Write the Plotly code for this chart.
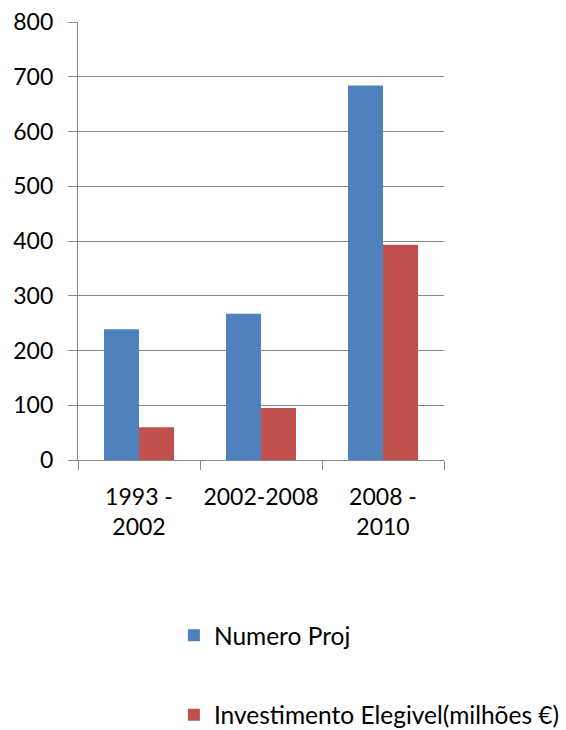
import plotly.graph_objects as go

# Periods and series values
periodos = ["1993 -<br>2002", "2002-2008", "2008 -<br>2010"]
numero_proj = [239, 267, 684]
investimento = [60, 95, 393]

serie_nomes = ["Numero Proj", "Investimento Elegivel(milhões €)"]
cores = ["#4F81BD", "#C0504D"]
eixo_y_ticks = [0, 100, 200, 300, 400, 500, 600, 700, 800]

FONT = "Lato, Open Sans, sans-serif"
GRID = "#868686"

fig = go.Figure()
fig.add_trace(go.Bar(
    x=periodos, y=numero_proj, name=serie_nomes[0],
    marker=dict(color=cores[0], line=dict(width=0)),
    legend="legend",
))
fig.add_trace(go.Bar(
    x=periodos, y=investimento, name=serie_nomes[1],
    marker=dict(color=cores[1], line=dict(width=0)),
    legend="legend2",
))

legend_style = dict(
    font=dict(family=FONT, size=24.5, color="#000000"),
    bgcolor="rgba(0,0,0,0)", borderwidth=0,
    xanchor="left", yanchor="middle", itemwidth=30,
)

fig.update_layout(
    width=566, height=730,
    margin=dict(l=78, r=122, t=22, b=270, autoexpand=False),
    paper_bgcolor="white", plot_bgcolor="white",
    barmode="group", bargap=0.426, bargroupgap=0,
    font=dict(family=FONT, size=23, color="#000000"),
    showlegend=True,
    legend=dict(x=0.262, y=-0.40, **legend_style),
    legend2=dict(x=0.262, y=-0.582, **legend_style),
    xaxis=dict(
        showline=True, linecolor=GRID, linewidth=1.3,
        ticks="outside", ticklen=9, tickcolor=GRID, tickwidth=1.3,
        tickson="boundaries", showgrid=False, tickangle=0,
        tickfont=dict(family=FONT, size=23, color="#000000"),
        ticklabelstandoff=16,
    ),
    yaxis=dict(
        range=[0, 800], tickvals=eixo_y_ticks,
        showline=True, linecolor=GRID, linewidth=1.3,
        showgrid=True, gridcolor=GRID, gridwidth=1.3,
        ticks="outside", ticklen=9, tickcolor=GRID, tickwidth=1.3,
        zeroline=False,
        tickfont=dict(family=FONT, size=23, color="#000000"),
        ticklabelstandoff=10,
    ),
)

fig.write_html("out.html")
